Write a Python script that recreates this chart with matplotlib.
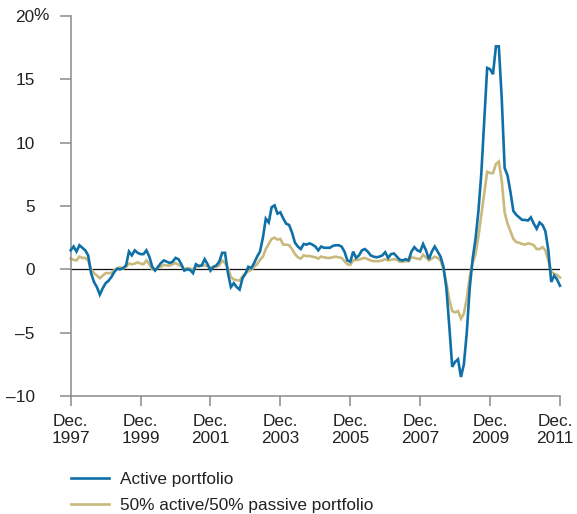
#!/usr/bin/env python3
"""Active vs. 50/50 active/passive portfolio, monthly excess return, Dec 1997 - Dec 2011."""

import matplotlib.pyplot as plt
import matplotlib.transforms as mtransforms
import numpy as np

# Monthly values (%), first point is Dec. 1997, last is Dec. 2011
active = [
    1.5, 1.8, 1.4, 1.9, 1.7, 1.5, 1.1, -0.3, -1.0, -1.4, -2.0, -1.5,
    -1.1, -0.9, -0.6, -0.2, 0.05, 0.0, 0.1, 0.3, 1.4, 1.1, 1.5, 1.3,
    1.2, 1.2, 1.5, 1.0, 0.2, -0.1, 0.2, 0.5, 0.7, 0.6, 0.5, 0.6,
    0.9, 0.8, 0.4, -0.1, 0.0, -0.05, -0.3, 0.4, 0.25, 0.3, 0.8, 0.4,
    -0.1, 0.2, 0.3, 0.6, 1.3, 1.3, -0.3, -1.4, -1.1, -1.4, -1.6, -0.7,
    -0.35, 0.2, 0.1, 0.5, 1.0, 1.4, 2.5, 4.0, 3.7, 4.9, 5.05, 4.4,
    4.5, 4.0, 3.6, 3.5, 2.9, 2.1, 1.8, 1.6, 2.0, 1.95, 2.05, 1.95,
    1.8, 1.5, 1.8, 1.7, 1.7, 1.7, 1.85, 1.9, 1.9, 1.8, 1.4, 0.7,
    0.6, 1.4, 0.9, 1.1, 1.5, 1.6, 1.4, 1.1, 1.0, 0.95, 1.0, 1.1,
    1.35, 0.9, 1.2, 1.25, 1.0, 0.75, 0.7, 0.8, 0.7, 1.4, 1.75, 1.5,
    1.4, 2.0, 1.5, 0.8, 1.4, 1.8, 1.4, 1.0, 0.2, -1.5, -4.5, -7.7,
    -7.3, -7.1, -8.5, -7.5, -5.0, -1.5, 0.8, 2.4, 4.6, 7.6, 11.8, 15.9,
    15.8, 15.4, 17.6, 17.6, 13.5, 8.0, 7.4, 6.1, 4.6, 4.3, 4.1, 3.9,
    3.9, 3.85, 4.1, 3.6, 3.2, 3.7, 3.5, 3.0, 1.5, -1.0, -0.5, -0.8,
    -1.3,
]
blend = [
    0.85, 0.75, 0.7, 1.0, 0.9, 0.9, 0.7, 0.0, -0.3, -0.5, -0.7, -0.5,
    -0.3, -0.3, -0.3, -0.05, 0.1, 0.15, 0.05, 0.2, 0.45, 0.4, 0.45, 0.55,
    0.45, 0.4, 0.7, 0.4, 0.0, -0.05, 0.15, 0.2, 0.35, 0.3, 0.3, 0.4,
    0.5, 0.35, 0.25, 0.0, 0.1, 0.05, 0.0, 0.2, 0.3, 0.35, 0.3, 0.25,
    0.15, 0.15, 0.2, 0.3, 0.7, 0.5, 0.1, -0.6, -0.8, -0.85, -0.9, -0.55,
    -0.3, -0.15, -0.05, 0.2, 0.4, 0.75, 1.0, 1.6, 2.0, 2.4, 2.5, 2.35,
    2.4, 1.95, 1.95, 1.9, 1.6, 1.2, 0.95, 0.85, 1.1, 1.05, 1.05, 1.0,
    0.95, 0.85, 1.0, 0.95, 0.9, 0.9, 0.95, 1.0, 0.95, 0.9, 0.65, 0.4,
    0.35, 0.7, 0.75, 0.75, 0.85, 0.9, 0.8, 0.7, 0.65, 0.65, 0.65, 0.7,
    0.8, 0.7, 0.75, 0.8, 0.75, 0.6, 0.6, 0.65, 0.65, 0.95, 0.9, 0.85,
    0.8, 1.15, 0.95, 0.7, 0.85, 1.0, 0.9, 0.7, 0.0, -1.1, -2.4, -3.3,
    -3.4, -3.3, -3.9, -3.5, -2.3, -0.6, 0.5, 1.2, 2.6, 4.3, 6.0, 7.7,
    7.6, 7.6, 8.3, 8.5, 7.0, 4.5, 3.6, 3.0, 2.4, 2.15, 2.1, 2.0,
    1.95, 2.05, 2.0, 1.9, 1.6, 1.6, 1.75, 1.5, 0.7, -0.2, -0.35, -0.45,
    -0.65,
]
tick_years = [1997, 1999, 2001, 2003, 2005, 2007, 2009, 2011]
y_ticks = [-10, -5, 0, 5, 10, 15, 20]
series_names = ["Active portfolio", "50% active/50% passive portfolio"]

BLUE = "#0f70a8"
TAN = "#c9b97c"
SPINE = "#8a8a8a"
TEXT = "#222222"


def main() -> None:
    plt.rcParams["font.family"] = ["Liberation Sans", "DejaVu Sans"]
    plt.rcParams["font.size"] = 12.4

    months = np.arange(len(active))

    fig = plt.figure(figsize=(5.77, 5.14), dpi=100)
    ax = fig.add_axes([0.1225, 0.2296, 0.848, 0.7393])

    ax.plot(months, active, color=BLUE, lw=1.9, label=series_names[0], zorder=3,
            solid_joinstyle="miter", clip_on=False)
    ax.plot(months, blend, color=TAN, lw=1.9, label=series_names[1], zorder=2,
            solid_joinstyle="miter", clip_on=False)
    ax.axhline(0, color="#111111", lw=0.9, zorder=1)

    # --- Axes ---
    ax.set_xlim(0, len(active) - 1)
    ax.set_ylim(-10, 20)
    ax.set_xticks([(y - 1997) * 12 for y in tick_years])
    ax.set_xticklabels([f"Dec.\n{y}" for y in tick_years], color=TEXT)
    ax.set_yticks(y_ticks)
    ax.set_yticklabels([f"{v}".replace("-", "\u2013") for v in y_ticks], color=TEXT)
    ax.tick_params(axis="x", length=7, width=1.1, color=SPINE, pad=6)
    ax.tick_params(axis="y", length=8, width=1.1, color=SPINE, pad=18)
    for side in ("top", "right"):
        ax.spines[side].set_visible(False)
    for side in ("left", "bottom"):
        ax.spines[side].set_color(SPINE)
        ax.spines[side].set_linewidth(1.1)

    # last x label sits a little left so it stays inside the picture
    last = ax.get_xticklabels()[-1]
    last.set_transform(last.get_transform()
                       + mtransforms.ScaledTranslation(-5 / 100, 0, fig.dpi_scale_trans))

    # "%" hangs past the right-aligned "20"
    ax.text(-0.076, 20, "%", transform=ax.get_yaxis_transform(), ha="left",
            va="center", color=TEXT)

    # --- Legend below the plot ---
    fig.legend(loc="upper left", bbox_to_anchor=(0.123, 0.082), frameon=False,
               borderpad=0, borderaxespad=0, handlelength=2.2, handletextpad=0.65,
               labelspacing=0.65, labelcolor=TEXT)

    fig.savefig("out.png", dpi=100)


if __name__ == "__main__":
    main()
